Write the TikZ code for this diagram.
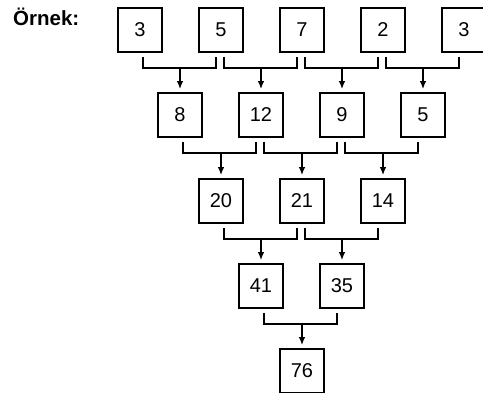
\documentclass[tikz,border=0pt]{standalone}
\usepackage{fontspec}
\setmainfont{Liberation Sans}
\usetikzlibrary{calc,arrows.meta}
\begin{document}
\begin{tikzpicture}[x=1pt,y=-1pt,
  numbox/.style={draw,line width=1.6pt,minimum width=44pt,minimum height=44pt,inner sep=0pt,font=\fontsize{20}{20}\selectfont},
  conn/.style={line width=1.6pt},
  arr/.style={line width=1.6pt,-{Latex[length=8pt,width=6.5pt]}}]
\useasboundingbox (0,0) rectangle (483,392);
\node[anchor=base west,font=\bfseries\fontsize{20.5}{20.5}\selectfont,inner sep=0pt] (lbl) at (13,25) {Örnek:};
% row 1
\node[numbox] (a1) at (140,30) {3};
\node[numbox] (a2) at (221,30) {5};
\node[numbox] (a3) at (302,30) {7};
\node[numbox] (a4) at (383,30) {2};
\node[numbox] (a5) at (464,30) {3};
% row 2
\node[numbox] (b1) at (180,115) {8};
\node[numbox] (b2) at (261,115) {12};
\node[numbox] (b3) at (342,115) {9};
\node[numbox] (b4) at (423,115) {5};
% row 3
\node[numbox] (c1) at (221,201) {20};
\node[numbox] (c2) at (302,201) {21};
\node[numbox] (c3) at (383,201) {14};
% row 4
\node[numbox] (d1) at (261,286) {41};
\node[numbox] (d2) at (342,286) {35};
% row 5
\node[numbox] (e1) at (302,371) {76};
% connectors
\foreach \l/\r/\t in {a1/a2/b1,a2/a3/b2,a3/a4/b3,a4/a5/b4,b1/b2/c1,b2/b3/c2,b3/b4/c3,c1/c2/d1,c2/c3/d2,d1/d2/e1}{
  \draw[conn] ($(\l.south)+(3,4)$) |- ($(\r.south)+(-5,15)$) -- ($(\r.south)+(-5,4)$);
  \draw[arr] (\t.north |- {$(\l.south)+(0,15)$}) -- ($(\t.north)+(0,-3)$);
}
\end{tikzpicture}
\end{document}
